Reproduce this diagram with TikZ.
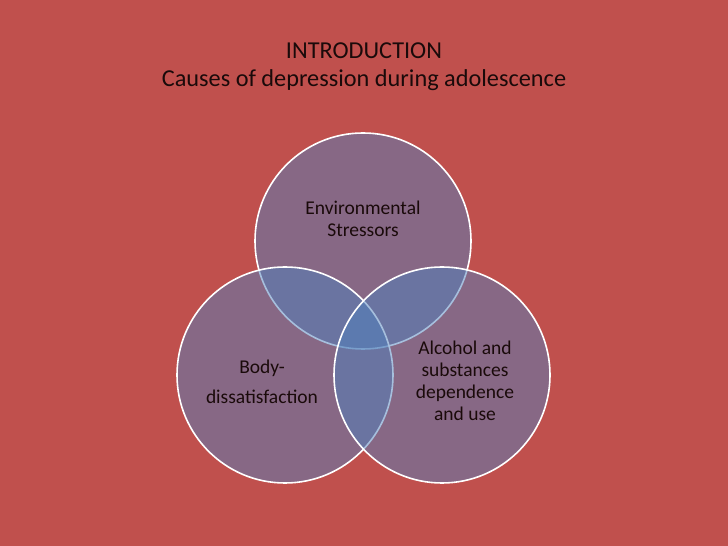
\documentclass[tikz,border=0pt]{standalone}
\usepackage{fontspec}
\setmainfont{Carlito}
\usepackage{xcolor}
\usepackage{tikz}
\usetikzlibrary{positioning}
\definecolor{cRed}{HTML}{C0504D}
\definecolor{cBlue}{HTML}{4F81BD}
\definecolor{cInk}{HTML}{1A0A0A}
\tikzset{
  venn/.style={circle,minimum size=216pt,inner sep=0pt,fill=cBlue,fill opacity=0.5,draw=white,draw opacity=1,line width=1.6pt},
  lbl/.style={align=center,text=cInk,text opacity=1,font=\fontsize{19.5}{22}\selectfont},
  ttl/.style={align=center,text=cInk,font=\fontsize{24.3}{28}\selectfont},
}
\begin{document}
\begin{tikzpicture}[x=1pt,y=1pt]
    \fill[cRed] (0,0) rectangle (728,546);
    \useasboundingbox (0,0) rectangle (728,546);
    \node[ttl] (title) at (364,479) {INTRODUCTION\\Causes of depression during adolescence};
    \node[venn] (env) at (363,305) {};
    \node[venn] (body) at (285,171) {};
    \node[venn] (alc) at (442,171) {};
    \node[lbl] (envt) at (363,327) {Environmental\\Stressors};
    \node[lbl,font=\fontsize{19.5}{30}\selectfont] (bodyt) at (262,164) {Body-\\dissatisfaction};
    \node[lbl] (alct) at (465,165) {Alcohol and\\substances\\dependence\\and use};
\end{tikzpicture}
\end{document}
